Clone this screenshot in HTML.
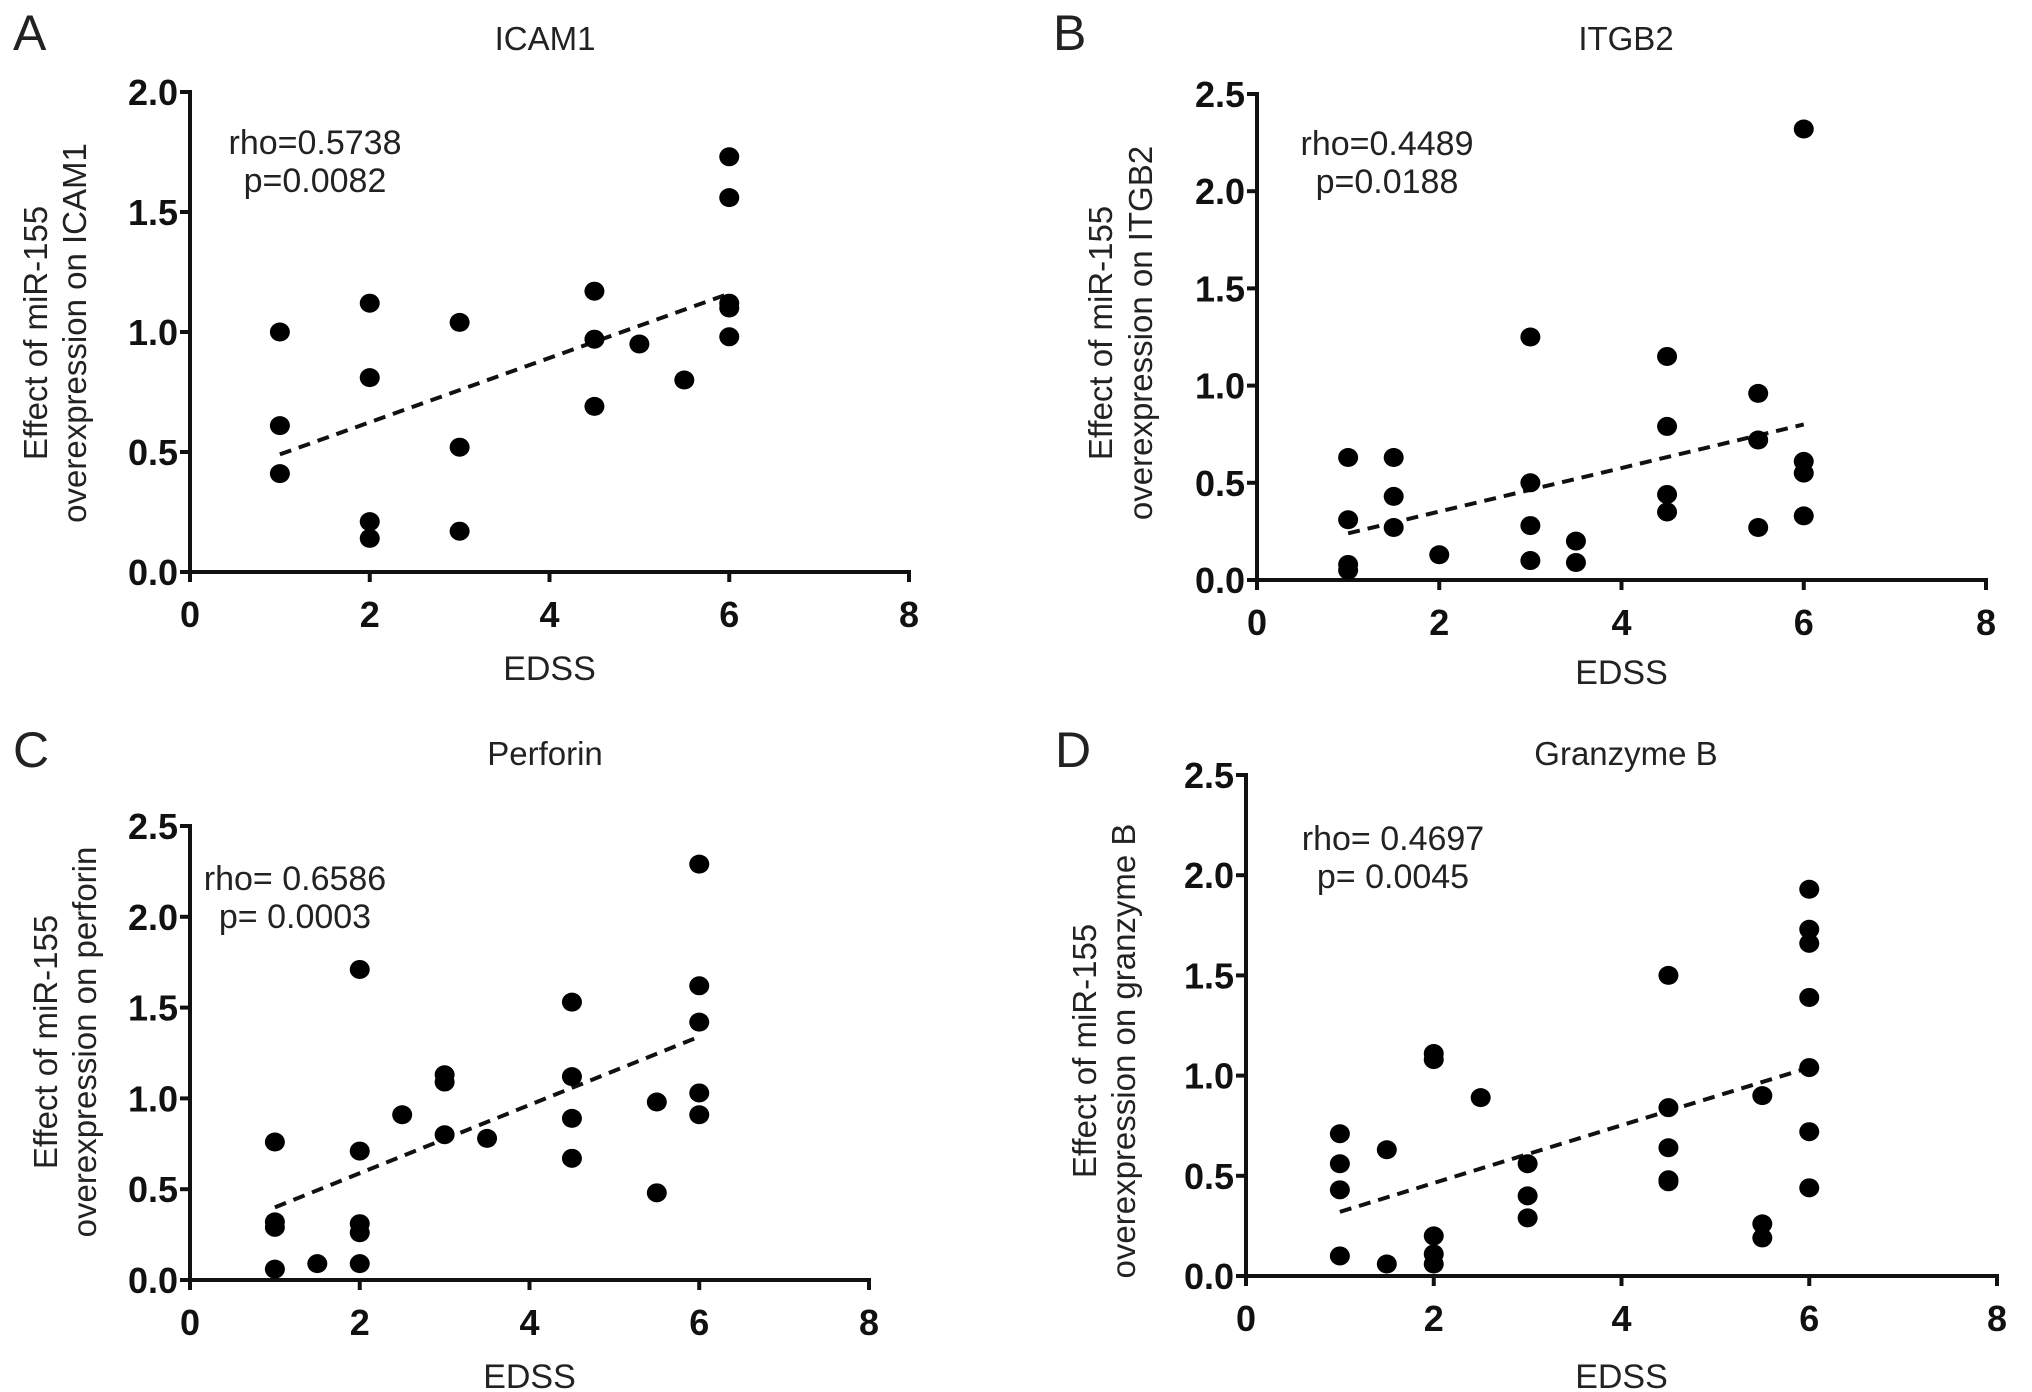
<!DOCTYPE html>
<html><head><meta charset="utf-8"><style>
html,body{margin:0;padding:0;background:#fff}
svg{display:block}
text{font-family:"Liberation Sans",Arial,sans-serif;fill:#222}
.tick{font-family:"Liberation Sans Narrow","Liberation Sans",sans-serif;font-weight:bold;font-size:36px;fill:#111}
</style></head><body>
<svg id="fig" width="2032" height="1392" viewBox="0 0 2032 1392" xmlns="http://www.w3.org/2000/svg"></svg>
<script>
// ---- data ----
const xTicks = [0, 2, 4, 6, 8];
const yTicksA = [0.0, 0.5, 1.0, 1.5, 2.0];
const yTicks25 = [0.0, 0.5, 1.0, 1.5, 2.0, 2.5];

const icamX = [1,1,1,2,2,2,2,3,3,3,4.5,4.5,4.5,5,5.5,6,6,6,6,6];
const icamY = [1.00,0.61,0.41,1.12,0.81,0.21,0.14,1.04,0.52,0.17,1.17,0.97,0.69,0.95,0.80,1.73,1.56,1.12,1.10,0.98];
const icamFit = [0.49, 1.16];

const itgbX = [1,1,1,1,1.5,1.5,1.5,2,3,3,3,3,3.5,3.5,4.5,4.5,4.5,4.5,5.5,5.5,5.5,6,6,6,6];
const itgbY = [0.63,0.31,0.08,0.05,0.63,0.43,0.27,0.13,1.25,0.50,0.28,0.10,0.20,0.09,1.15,0.79,0.44,0.35,0.96,0.72,0.27,2.32,0.61,0.55,0.33];
const itgbFit = [0.24, 0.80];

const perfX = [1,1,1,1,1.5,2,2,2,2,2,2.5,3,3,3,3.5,4.5,4.5,4.5,4.5,5.5,5.5,6,6,6,6,6];
const perfY = [0.76,0.32,0.29,0.06,0.09,1.71,0.71,0.31,0.26,0.09,0.91,1.13,1.09,0.80,0.78,1.53,1.12,0.89,0.67,0.98,0.48,2.29,1.62,1.42,1.03,0.91];
const perfFit = [0.40, 1.34];

const granX = [1,1,1,1,1.5,1.5,2,2,2,2,2,2.5,3,3,3,4.5,4.5,4.5,4.5,4.5,5.5,5.5,5.5,6,6,6,6,6,6,6];
const granY = [0.71,0.56,0.43,0.10,0.63,0.06,1.11,1.08,0.20,0.11,0.06,0.89,0.56,0.40,0.29,1.50,0.84,0.64,0.48,0.47,0.90,0.26,0.19,1.93,1.73,1.66,1.39,1.04,0.72,0.44];
const granFit = [0.32, 1.04];

const fitX = [1, 6];

// ---- layout ----
const panels = [
 {id:'a',letter:'A',title:'ICAM1',xs:xTicks,ys:yTicksA,ymax:2.0,X:icamX,Y:icamY,fit:icamFit,
  x0:190,x1:909,y0:572,y1:92,lx:13,ly:50,tx:545,ty:50,sx:315,sy:152,yl:['Effect of miR-155','overexpression on ICAM1'],ylx:[36,75],yly:333,rho:'rho=0.5738',p:'p=0.0082',lb:680},
 {id:'b',letter:'B',title:'ITGB2',xs:xTicks,ys:yTicks25,ymax:2.5,X:itgbX,Y:itgbY,fit:itgbFit,
  x0:1257,x1:1986,y0:580,y1:94,lx:1053,ly:50,tx:1626,ty:50,sx:1387,sy:153,yl:['Effect of miR-155','overexpression on ITGB2'],ylx:[1101,1141],yly:333,rho:'rho=0.4489',p:'p=0.0188',lb:684},
 {id:'c',letter:'C',title:'Perforin',xs:xTicks,ys:yTicks25,ymax:2.5,X:perfX,Y:perfY,fit:perfFit,
  x0:190,x1:869,y0:1280,y1:826,lx:13,ly:767,tx:545,ty:765,sx:295,sy:888,yl:['Effect of miR-155','overexpression on perforin'],ylx:[46,85],yly:1042,rho:'rho= 0.6586',p:'p= 0.0003',lb:1388},
 {id:'d',letter:'D',title:'Granzyme B',xs:xTicks,ys:yTicks25,ymax:2.5,X:granX,Y:granY,fit:granFit,
  x0:1246,x1:1997,y0:1276,y1:775,lx:1055,ly:767,tx:1626,ty:765,sx:1393,sy:848,yl:['Effect of miR-155','overexpression on granzyme B'],ylx:[1085,1124],yly:1051,rho:'rho= 0.4697',p:'p= 0.0045',lb:1388}
];
const NS='http://www.w3.org/2000/svg';
const svg=document.getElementById('fig');
function mk(tag,attrs,parent,txt){const e=document.createElementNS(NS,tag);for(const k in attrs)e.setAttribute(k,attrs[k]);if(txt!==undefined)e.textContent=txt;parent.appendChild(e);return e;}

panels.forEach(P=>{
 const g=mk('g',{},svg);
 
 
 const sx=v=>P.x0+(v-0)/8*(P.x1-P.x0);
 const sy=v=>P.y0-(v/P.ymax)*(P.y0-P.y1);
 let t=mk('text',{x:P.lx,y:P.ly,'font-size':50},g,P.letter);
 
 
 t=mk('text',{x:P.tx,y:P.ty,'font-size':33,'text-anchor':'middle'},g,P.title);
 
 
 let a=mk('line',{x1:P.x0,y1:P.y0,x2:P.x1+2,y2:P.y0,stroke:'#111','stroke-width':4},g);
 
 
 a=mk('line',{x1:P.x0,y1:P.y0+2,x2:P.x0,y2:P.y1-2,stroke:'#111','stroke-width':4},g);
 
 
 P.xs.forEach(v=>{
  mk('line',{x1:sx(v),y1:P.y0,x2:sx(v),y2:P.y0+10,stroke:'#111','stroke-width':4},g);
  const l=mk('text',{x:sx(v),y:P.y0+55,'text-anchor':'middle',class:'tick'},g,String(v));
  
  
 });
 P.ys.forEach(v=>{
  mk('line',{x1:P.x0-10,y1:sy(v),x2:P.x0,y2:sy(v),stroke:'#111','stroke-width':4},g);
  const l=mk('text',{x:P.x0-12,y:sy(v)+13,'text-anchor':'end',class:'tick'},g,v.toFixed(1));
  
  
 });
 t=mk('text',{x:(P.x0+P.x1)/2,y:P.lb,'font-size':34,'text-anchor':'middle'},g,'EDSS');
 
 
 P.yl.forEach((s,i)=>{
  const tt=mk('text',{x:P.ylx[i]+11,y:P.yly,'font-size':33,'text-anchor':'middle',transform:`rotate(-90 ${P.ylx[i]+11} ${P.yly})`},g,s);
  
  
 });
 t=mk('text',{x:P.sx,y:P.sy+2,'font-size':34,'text-anchor':'middle'},g,P.rho);
 
 
 t=mk('text',{x:P.sx,y:P.sy+40,'font-size':34,'text-anchor':'middle'},g,P.p);
 
 
 const fl=mk('line',{x1:sx(fitX[0]),y1:sy(P.fit[0]),x2:sx(fitX[1]),y2:sy(P.fit[1]),stroke:'#111','stroke-width':4,'stroke-dasharray':'12 8'},g);
 
 
 P.X.forEach((xv,i)=>{
  const c=mk('ellipse',{cx:sx(xv),cy:sy(P.Y[i]),rx:10,ry:9.5,fill:'#000'},g);
  
  
 });
});
</script>
</body></html>
